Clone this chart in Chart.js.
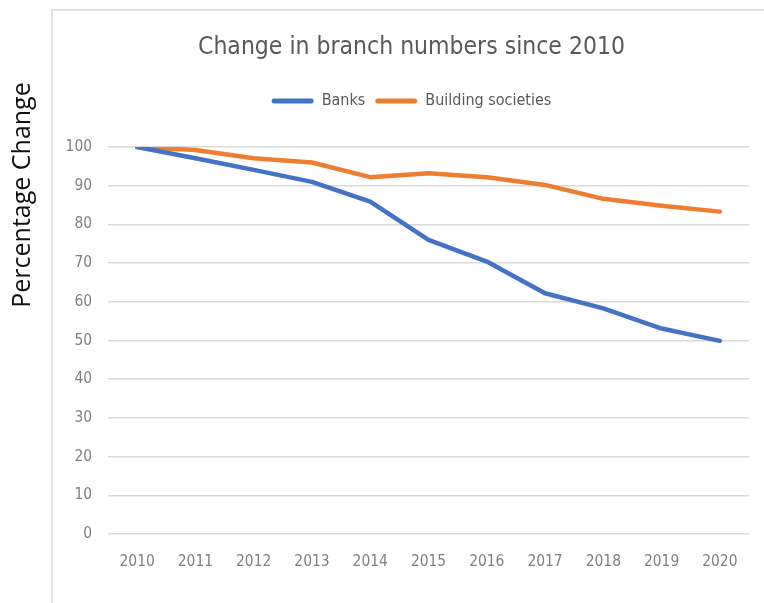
<!DOCTYPE html>
<html>
<head>
<meta charset="utf-8">
<script src="https://cdn.jsdelivr.net/npm/chart.js@4.4.1/dist/chart.umd.min.js"></script>
<style>
  html, body { margin: 0; padding: 0; background: #ffffff; }
  #wrap { width: 764px; height: 603px; }
</style>
</head>
<body>
<div id="wrap"><canvas id="c" width="764" height="603"></canvas></div>
<script>
const years = ['2010','2011','2012','2013','2014','2015','2016','2017','2018','2019','2020'];
const banks = [100, 97.1, 94.1, 91.0, 85.9, 76.0, 70.4, 62.2, 58.3, 53.1, 49.9];
const buildingSocieties = [100, 99.2, 97.1, 96.0, 92.2, 93.2, 92.2, 90.2, 86.6, 84.8, 83.3];
const seriesNames = ['Banks', 'Building societies'];
const chartTitle = 'Change in branch numbers since 2010';
const yAxisTitle = 'Percentage Change';

const NARROW = "'DejaVu Sans Condensed', 'Liberation Sans Narrow', sans-serif";

const framePlugin = {
  id: 'frame',
  beforeDraw(chart) {
    const ctx = chart.ctx;
    ctx.save();
    ctx.strokeStyle = '#d9d9d9';
    ctx.lineWidth = 1.5;
    ctx.beginPath();
    ctx.moveTo(52, 603);
    ctx.lineTo(52, 10);
    ctx.lineTo(764, 10);
    ctx.stroke();
    ctx.restore();
  }
};

const yTitlePlugin = {
  id: 'yTitle',
  afterDraw(chart) {
    const ctx = chart.ctx;
    ctx.save();
    ctx.translate(23, 195);
    ctx.rotate(-Math.PI / 2);
    ctx.font = "25px 'Open Sans', sans-serif";
    ctx.fillStyle = '#111111';
    ctx.textAlign = 'center';
    ctx.textBaseline = 'middle';
    ctx.fillText(yAxisTitle, 0, 0);
    ctx.restore();
  }
};

const legendSpacer = {
  id: 'legendSpacer',
  afterInit(chart) {
    const legend = chart.legend;
    if (!legend) return;
    const origFit = legend.fit;
    legend.fit = function() {
      origFit.call(this);
      this.height += 28;
    };
  }
};

// widen the y-axis label clip area so the tick labels are not cut off
const yLabelArea = {
  id: 'yLabelArea',
  afterLayout(chart) {
    chart.scales.y.left = 52;
  }
};

new Chart(document.getElementById('c'), {
  type: 'line',
  data: {
    labels: years,
    datasets: [
      {
        label: seriesNames[0],
        data: banks,
        borderColor: '#4472c4',
        backgroundColor: '#4472c4',
        borderWidth: 4.5,
        pointRadius: 0,
        tension: 0,
        borderJoinStyle: 'round',
        borderCapStyle: 'round'
      },
      {
        label: seriesNames[1],
        data: buildingSocieties,
        borderColor: '#ed7d31',
        backgroundColor: '#ed7d31',
        borderWidth: 4.5,
        pointRadius: 0,
        tension: 0,
        borderJoinStyle: 'round',
        borderCapStyle: 'round'
      }
    ]
  },
  options: {
    responsive: false,
    animation: false,
    layout: { padding: { left: 74, right: 15, top: 0, bottom: 0 } },
    plugins: {
      title: {
        display: true,
        text: chartTitle,
        color: '#595959',
        font: { family: NARROW, size: 24.5, weight: 'normal', lineHeight: 1.2 },
        padding: { top: 33.3, bottom: 20.3 }
      },
      legend: {
        display: true,
        position: 'top',
        labels: {
          color: '#595959',
          font: { family: NARROW, size: 16 },
          boxWidth: 42,
          boxHeight: 5,
          padding: 10,
          useBorderRadius: true,
          borderRadius: 2.5,
          generateLabels(chart) {
            const items = Chart.defaults.plugins.legend.labels.generateLabels(chart);
            return items.map(it => Object.assign(it, { lineWidth: 0, fillStyle: it.strokeStyle }));
          }
        }
      },
      tooltip: { enabled: false }
    },
    scales: {
      x: {
        offset: true,
        grid: { display: false, drawTicks: false },
        border: { display: false },
        ticks: { color: '#7f7f7f', font: { family: NARROW, size: 15.4 }, padding: 19, maxRotation: 0 },
        afterFit(scale) { scale.height = 69; }
      },
      y: {
        min: 0,
        max: 100,
        ticks: { stepSize: 10, color: '#7f7f7f', font: { family: NARROW, size: 15.4 }, padding: 16 },
        grid: { color: '#d9d9d9', lineWidth: 1.5, drawTicks: false },
        border: { display: false },
        afterFit(scale) { scale.width = 34; }
      }
    }
  },
  plugins: [framePlugin, yTitlePlugin, legendSpacer, yLabelArea]
});
</script>
</body>
</html>
